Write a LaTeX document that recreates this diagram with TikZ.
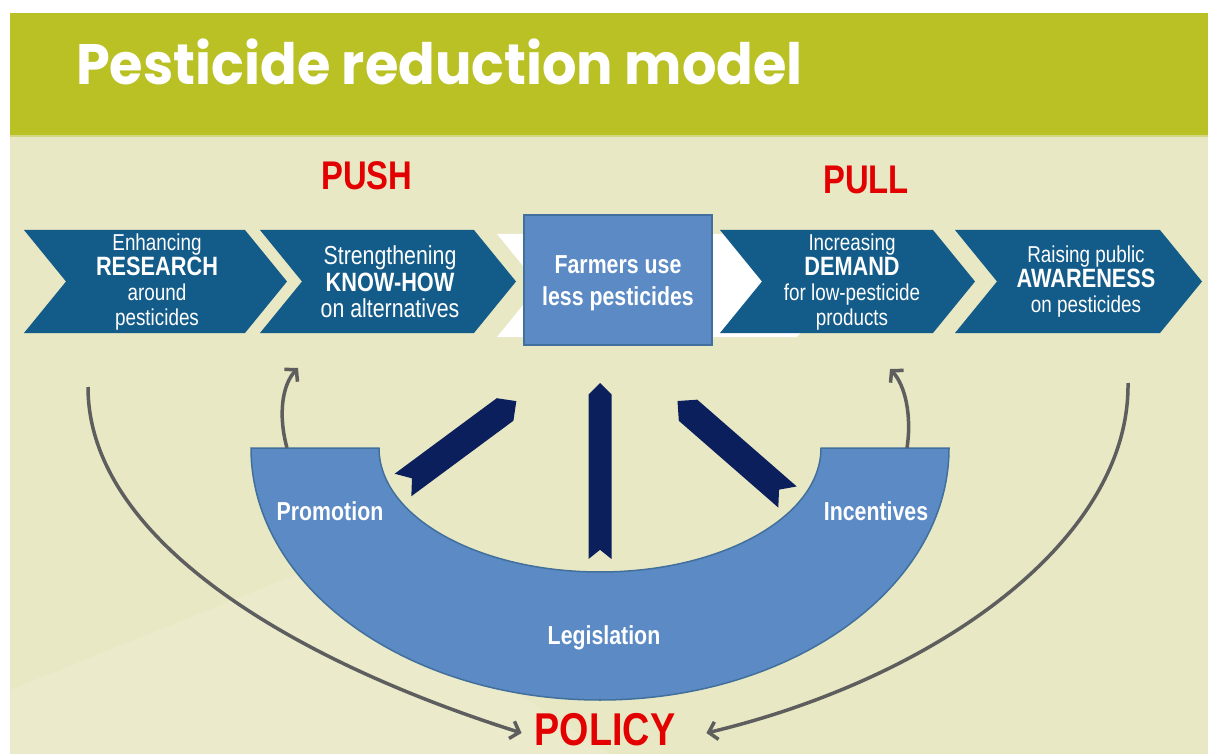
\documentclass[tikz,border=0pt]{standalone}
\usepackage{fontspec}
\setmainfont{Liberation Sans}
\newfontfamily\narrowfont[FakeStretch=0.82]{Liberation Sans}
\newfontfamily\titlefont[FakeStretch=0.95]{Poppins}
\usetikzlibrary{arrows.meta}

\definecolor{header}{HTML}{B9C124}
\definecolor{headerline}{HTML}{D3D784}
\definecolor{slide}{HTML}{E8E8C4}
\definecolor{slidelight}{HTML}{EBEBCC}
\definecolor{chevblue}{HTML}{135B89}
\definecolor{boxblue}{HTML}{5B8AC5}
\definecolor{boxline}{HTML}{41709C}
\definecolor{navy}{HTML}{0B1F5C}
\definecolor{pushred}{HTML}{E30000}
\definecolor{flowgray}{HTML}{5E5E5E}

% chevron: left x, top y, length of top edge, colour
\newcommand\chevron[4]{%
  \fill[#4] (#1,#2) -- ++(#3,0) -- ++(42,51.5) -- ++(-42,51.5) -- ++(-#3,0) -- ++(42,-51.5) -- cycle;}

\tikzset{
  slidetitle/.style={text=white, inner sep=0pt, anchor=base west,
    font=\titlefont\bfseries\fontsize{57}{57}\selectfont},
  chevtext/.style={text=white, align=center, inner sep=0pt,
    font=\narrowfont\fontsize{23}{25}\selectfont},
  widetext/.style={chevtext, font=\narrowfont\fontsize{26}{26.5}\selectfont},
  boxtext/.style={text=white, align=center, inner sep=0pt,
    font=\narrowfont\bfseries\fontsize{26}{32}\selectfont},
  ringtext/.style={text=white, inner sep=0pt,
    font=\narrowfont\bfseries\fontsize{26}{26}\selectfont},
  headword/.style={text=pushred, inner sep=0pt,
    font=\narrowfont\bfseries\fontsize{40}{40}\selectfont},
  flow/.style={draw=flowgray, line width=3.5pt, -{Straight Barb[length=8pt,width=18pt]}},
  pics/ribbon/.style n args={2}{code={%
    \fill[navy] (0,-#2) -- (#1-#2,-#2) -- (#1,0) -- (#1-#2,#2) -- (0,#2) -- (0.8*#2,0) -- cycle;}},
}
\newcommand\keyword[1]{{\bfseries\fontsize{26.5}{25}\selectfont #1}}

\begin{document}
\begin{tikzpicture}[x=1pt,y=-1pt]
  \useasboundingbox (0,0) rectangle (1208,754);
  \fill[white] (0,0) rectangle (1208,754);
  % slide background and header
  \fill[slide] (10,13) rectangle (1208,754);
  \fill[slidelight] (10,690) -- (320,565) -- (610,754) -- (10,754) -- cycle;
  \fill[header] (10,13) rectangle (1208,135);
  \draw[headerline, line width=2pt] (10,136) -- (1208,136);
  \node[slidetitle] (title) at (76,85) {Pesticide reduction model};

  \node[headword] (push) at (367,176) {PUSH};
  \node[headword] (pull) at (866,180) {PULL};

  % chevrons
  \chevron{497}{234}{300}{white}
  \chevron{24}{230}{221}{chevblue}
  \chevron{260}{230}{214}{chevblue}
  \chevron{720}{230}{213}{chevblue}
  \chevron{955}{230}{205}{chevblue}
  \node[chevtext] (research) at (157,282) {Enhancing\\\keyword{RESEARCH}\\around\\pesticides};
  \node[widetext] (knowhow) at (390,282) {Strengthening\\\keyword{KNOW-HOW}\\on alternatives};
  \node[chevtext] (demand) at (852,282) {Increasing\\\keyword{DEMAND}\\for low-pesticide\\products};
  \node[chevtext] (awareness) at (1086,282) {Raising public\\\keyword{AWARENESS}\\on pesticides};

  % centre box
  \filldraw[fill=boxblue, draw=boxline, line width=2pt] (524,215) rectangle (712,345);
  \node[boxtext] (farmers) at (618,283) {Farmers use\\less pesticides};

  % policy ring
  \filldraw[fill=boxblue, draw=boxline, line width=1.5pt]
    (949,448) arc[start angle=0, end angle=180, x radius=349, y radius=252]
    -- (379,448) arc[start angle=180, end angle=0, x radius=221, y radius=124] -- cycle;
  \node[ringtext] (promotion) at (330,511) {Promotion};
  \node[ringtext] (incentives) at (876,511) {Incentives};
  \node[ringtext] (legislation) at (604,638) {Legislation};

  \pic[rotate=90] at (600,559) {ribbon={176}{11.5}};
  \pic[rotate=36.5] at (403,485) {ribbon={141}{14}};
  \pic[rotate=138.9] at (787.5,497) {ribbon={146}{14}};

  \node[headword, font=\narrowfont\bfseries\fontsize{46}{46}\selectfont] (policy) at (605,730) {POLICY};

  % feedback arrows
  \coordinate (research foot) at (88,387);
  \coordinate (awareness foot) at (1128,383);
  \coordinate (promotion top) at (287,448);
  \coordinate (incentives top) at (907,448);
  \draw[flow] (research foot) .. controls +(0,153) and +(-228,-72) .. ([xshift=-13pt,yshift=-3pt]policy.west);
  \draw[flow] (awareness foot) .. controls +(2,157) and +(230,-55) .. ([xshift=31pt,yshift=-3pt]policy.east);
  \draw[flow] (promotion top) .. controls +(-9,-33) and +(-16,17) .. (298,368);
  \draw[flow] (incentives top) .. controls +(5,-33) and +(15,16) .. (890,369);
\end{tikzpicture}
\end{document}
